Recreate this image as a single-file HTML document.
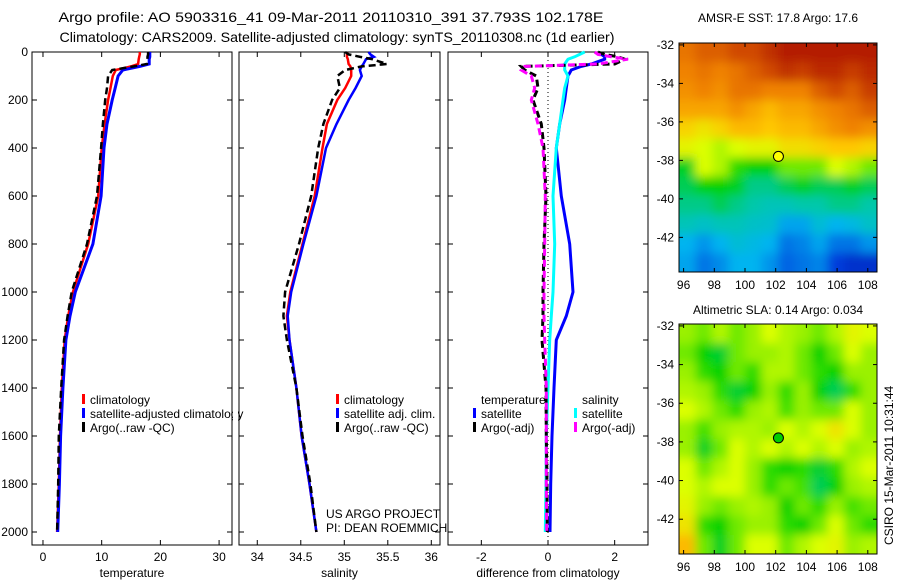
<!DOCTYPE html>
<html><head><meta charset="utf-8"><style>
body{margin:0;background:#fff;}
svg{display:block;font-family:"Liberation Sans",sans-serif;}
text{font-size:12px;fill:#000;}
</style></head><body>
<svg id="fig" width="900" height="580" viewBox="0 0 900 580">
<defs>
<filter id="blur" x="-5%" y="-5%" width="110%" height="110%"><feGaussianBlur stdDeviation="5"/></filter>
<clipPath id="clip1"><rect x="679" y="43" width="198" height="229"/></clipPath>
<clipPath id="clip2"><rect x="679" y="324" width="198" height="230"/></clipPath>
</defs>
<text x="331" y="22" text-anchor="middle" style="font-size:14px" textLength="545" lengthAdjust="spacingAndGlyphs">Argo profile: AO 5903316_41 09-Mar-2011 20110310_391 37.793S 102.178E</text>
<text x="337" y="42" text-anchor="middle" style="font-size:14px" textLength="555" lengthAdjust="spacingAndGlyphs">Climatology: CARS2009. Satellite-adjusted climatology: synTS_20110308.nc (1d earlier)</text>
<text x="778" y="22" text-anchor="middle">AMSR-E SST: 17.8 Argo: 17.6</text>
<text x="778" y="314" text-anchor="middle">Altimetric SLA: 0.14 Argo: 0.034</text>
<text transform="translate(893,545) rotate(-90)">CSIRO 15-Mar-2011 10:31:44</text>
<g id="layer"></g>
</svg>
<script>
const depths=[0,10,20,30,50,60,75,100,150,200,300,400,600,800,1000,1100,1200,1400,1600,1800,2000];
const tempClim=[16.5,16.5,16.4,16.3,16.2,15.0,12.4,11.9,11.5,11.1,10.5,10.0,9.4,7.7,5.1,4.3,3.7,3.2,2.9,2.7,2.4];
const tempSat=[18.2,18.2,18.2,18.1,18.1,16.5,13.6,12.8,12.3,11.8,10.9,10.4,9.9,8.5,5.5,4.6,3.9,3.4,3.0,2.8,2.5];
const tempArgo=[17.9,17.9,17.8,17.8,17.7,15.5,11.8,11.1,10.9,10.6,10.2,9.9,9.2,7.5,4.9,4.2,3.6,3.1,2.7,2.6,2.4];
const salClim=[35.03,35.03,35.03,35.04,35.05,35.07,35.08,35.08,35.01,34.92,34.80,34.75,34.66,34.52,34.38,34.34,34.37,34.45,34.51,34.60,34.68];
const salSat=[35.28,35.30,35.34,35.25,35.22,35.20,35.18,35.20,35.13,35.05,34.91,34.79,34.68,34.53,34.39,34.35,34.37,34.45,34.51,34.60,34.68];
const salArgo=[35.01,35.05,35.18,35.32,35.49,35.20,35.01,34.92,34.95,34.86,34.76,34.70,34.62,34.48,34.32,34.30,34.34,34.45,34.52,34.61,34.68];
const diffTempSat=[1.6,1.6,1.7,1.7,1.3,1.0,0.7,0.6,0.55,0.5,0.35,0.25,0.4,0.65,0.75,0.55,0.25,0.18,0.12,0.08,0.06];
const diffSalSat=[1.1,0.95,0.8,0.6,0.5,0.5,0.5,0.6,0.5,0.45,0.35,0.25,0.15,0.2,0.15,0.1,0.05,0.0,-0.05,-0.06,-0.08];
const diffTempArgo=[1.5,1.7,2.1,2.3,2.0,-0.8,-0.7,-0.35,-0.3,-0.45,-0.2,-0.12,-0.06,-0.12,-0.15,-0.15,-0.18,-0.06,-0.05,-0.03,-0.02];
const diffSalArgo=[1.4,1.5,1.9,2.4,1.5,-0.7,-0.8,-0.5,-0.4,-0.5,-0.3,-0.15,-0.08,-0.1,-0.12,-0.12,-0.1,-0.05,-0.05,-0.05,-0.04];
const depthTicks=[0,200,400,600,800,1000,1200,1400,1600,1800,2000];
const tempTicks=[0,10,20,30];
const salTicks=[34,34.5,35,35.5,36];
const diffTicks=[-2,0,2];
const lonTicks=[96,98,100,102,104,106,108];
const latTicks=[-32,-34,-36,-38,-40,-42];
const sstGrid=[
[0.82,0.85,0.85,0.88,0.88,0.92,0.95,0.95,0.95,0.95,0.95,0.95],
[0.8,0.82,0.8,0.82,0.85,0.88,0.92,0.9,0.93,0.93,0.9,0.93],
[0.78,0.8,0.78,0.82,0.82,0.8,0.8,0.8,0.85,0.88,0.85,0.9],
[0.75,0.75,0.75,0.78,0.75,0.72,0.75,0.75,0.78,0.8,0.82,0.85],
[0.68,0.65,0.68,0.72,0.72,0.7,0.72,0.72,0.75,0.78,0.8,0.78],
[0.62,0.6,0.58,0.6,0.62,0.62,0.66,0.66,0.68,0.7,0.7,0.68],
[0.48,0.6,0.58,0.52,0.5,0.5,0.55,0.55,0.55,0.6,0.58,0.55],
[0.45,0.5,0.5,0.48,0.42,0.42,0.45,0.48,0.45,0.45,0.48,0.45],
[0.42,0.42,0.45,0.42,0.40,0.38,0.38,0.40,0.40,0.42,0.42,0.40],
[0.38,0.36,0.38,0.38,0.36,0.35,0.28,0.28,0.34,0.3,0.32,0.36],
[0.3,0.26,0.3,0.34,0.32,0.3,0.22,0.24,0.28,0.22,0.22,0.26],
[0.28,0.22,0.25,0.3,0.3,0.26,0.2,0.22,0.24,0.15,0.12,0.12]];
const slaGrid=[
[.57,.55,.58,.55,.57,.6,.58,.57,.55,.58,.62,.6],
[.55,.5,.47,.55,.57,.57,.58,.55,.5,.55,.6,.57],
[.57,.52,.5,.55,.52,.58,.58,.55,.52,.5,.57,.57],
[.58,.57,.52,.47,.5,.57,.52,.57,.5,.45,.52,.57],
[.6,.58,.55,.52,.57,.58,.53,.57,.55,.55,.6,.57],
[.57,.53,.57,.58,.58,.57,.6,.58,.6,.65,.6,.57],
[.57,.48,.55,.6,.58,.6,.58,.6,.58,.6,.57,.58],
[.6,.55,.58,.6,.57,.52,.5,.52,.47,.52,.58,.6],
[.6,.58,.6,.6,.57,.52,.55,.53,.45,.5,.57,.58],
[.62,.57,.55,.57,.58,.57,.5,.55,.52,.57,.53,.55],
[.65,.52,.5,.55,.57,.57,.52,.5,.55,.6,.55,.52],
[.72,.55,.48,.55,.6,.6,.55,.58,.6,.62,.57,.58]];
const argoLon=102.178, argoLat=-37.793;

const NS='http://www.w3.org/2000/svg';
const layer=document.getElementById('layer');
function mk(tag,attrs,parent){const e=document.createElementNS(NS,tag);for(const k in attrs)e.setAttribute(k,attrs[k]);(parent||layer).appendChild(e);return e;}
function txt(x,y,s,anchor,parent){const t=mk('text',{x:x,y:y,'text-anchor':anchor||'start'},parent);t.textContent=s;return t;}

const yTop=52, yPer=0.24, boxBottom=545;
const yD=d=>yTop+d*yPer;
const panels=[
 {x0:32,x1:232,v0:-1.87,v1:32.2,ticks:tempTicks,label:'temperature',name:'temperature-panel',ylab:true},
 {x0:239,x1:440,v0:33.79,v1:36.1,ticks:salTicks,label:'salinity',name:'salinity-panel'},
 {x0:448,x1:648,v0:-3,v1:3,ticks:diffTicks,label:'difference from climatology',name:'difference-panel'}];
panels.forEach(p=>{p.sx=v=>p.x0+(v-p.v0)/(p.v1-p.v0)*(p.x1-p.x0);});

function drawAxes(p){
 const g=mk('g',{});
 
 
 mk('rect',{x:p.x0,y:yTop,width:p.x1-p.x0,height:boxBottom-yTop,fill:'none',stroke:'#000','stroke-width':1},g);
 p.ticks.forEach(t=>{const x=p.sx(t);
  mk('line',{x1:x,x2:x,y1:boxBottom,y2:boxBottom-5,stroke:'#000'},g);
  mk('line',{x1:x,x2:x,y1:yTop,y2:yTop+5,stroke:'#000'},g);
  const lt=txt(x,boxBottom+16,String(t),'middle',g);
  
  
 });
 depthTicks.forEach(d=>{const y=yD(d);
  mk('line',{x1:p.x0,x2:p.x0+5,y1:y,y2:y,stroke:'#000'},g);
  mk('line',{x1:p.x1,x2:p.x1-5,y1:y,y2:y,stroke:'#000'},g);
  if(p.ylab){const lt=txt(p.x0-4,y+4,String(d),'end',g);
   
   }
 });
 const xl=txt((p.x0+p.x1)/2,boxBottom+32,p.label,'middle',g);
 
 
}
panels.forEach(drawAxes);

function line(p,vals,color,dash,width,name){
 const pts=vals.map((v,i)=>p.sx(v).toFixed(1)+','+yD(depths[i]).toFixed(1)).join(' ');
 const e=mk('polyline',{points:pts,fill:'none',stroke:color,'stroke-width':width||2.5,'stroke-dasharray':dash||'none'});
 
 
}
const zl=mk('line',{x1:panels[2].sx(0),x2:panels[2].sx(0),y1:yTop,y2:boxBottom,stroke:'#000','stroke-dasharray':'1,3'});



line(panels[0],tempClim,'#f00',null,2.5,'temp-climatology-line');
line(panels[0],tempSat,'#00f',null,3,'temp-satellite-line');
line(panels[0],tempArgo,'#000','7,4',2.5,'temp-argo-line');
line(panels[1],salClim,'#f00',null,2.5,'sal-climatology-line');
line(panels[1],salSat,'#00f',null,2.5,'sal-satellite-line');
line(panels[1],salArgo,'#000','7,4',2.5,'sal-argo-line');
line(panels[2],diffTempSat,'#00f',null,3,'diff-temp-satellite-line');
line(panels[2],diffSalSat,'#0ff',null,3,'diff-sal-satellite-line');
line(panels[2],diffTempArgo,'#000','7,4',3,'diff-temp-argo-line');
line(panels[2],diffSalArgo,'#f0f','7,4',3,'diff-sal-argo-line');

function legendEntry(x,y,color,label,name){
 const g=mk('g',{});
 
 
 mk('rect',{x:x,y:y-10,width:3,height:10,fill:color},g);
 txt(x+8,y,label,'start',g);
}
legendEntry(82,404,'#f00','climatology','legend-climatology');
legendEntry(82,418,'#00f','satellite-adjusted climatology','legend-satellite-adjusted');
legendEntry(82,432,'#000','Argo(..raw -QC)','legend-argo');
legendEntry(336,404,'#f00','climatology','legend-sal-climatology');
legendEntry(336,418,'#00f','satellite adj. clim.','legend-sal-satellite');
legendEntry(336,432,'#000','Argo(..raw -QC)','legend-sal-argo');
txt(481,404,'temperature');
txt(582,404,'salinity');
legendEntry(473,418,'#00f','satellite','legend-diff-temp-satellite');
legendEntry(473,432,'#000','Argo(-adj)','legend-diff-temp-argo');
legendEntry(574,418,'#0ff','satellite','legend-diff-sal-satellite');
legendEntry(574,432,'#f0f','Argo(-adj)','legend-diff-sal-argo');
mk('rect',{x:233,y:405,width:5,height:16,fill:'#fff'});
txt(326,518,'US ARGO PROJECT');
txt(326,532,'PI: DEAN ROEMMICH');

const stops=[[0,[0,0,140]],[0.15,[0,60,220]],[0.3,[0,180,240]],[0.4,[0,200,170]],[0.5,[0,210,0]],[0.6,[220,255,0]],[0.7,[255,200,0]],[0.8,[240,130,0]],[0.9,[200,60,0]],[1,[160,0,0]]];
function cmap(v){v=Math.max(0,Math.min(1,v));for(let i=1;i<stops.length;i++){if(v<=stops[i][0]){const a=stops[i-1],b=stops[i];const t=(v-a[0])/(b[0]-a[0]);const c=a[1].map((q,k)=>Math.round(q+(b[1][k]-q)*t));return 'rgb('+c.join(',')+')';}}return 'rgb(160,0,0)';}

function drawMap(grid,m,name,dotColor,clip){
 const lonMin=95.7,lonMax=108.6,latMax=-31.9,latMin=-43.8;
 const sx=lon=>m.x0+(lon-lonMin)/(lonMax-lonMin)*(m.x1-m.x0);
 const sy=lat=>m.y0+(latMax-lat)/(latMax-latMin)*(m.y1-m.y0);
 const g=mk('g',{});
 
 
 const cg=mk('g',{'clip-path':'url(#'+clip+')'},g);
 const bg=mk('g',{filter:'url(#blur)'},cg);
 const rows=grid.length, cols=grid[0].length;
 const cw=(m.x1-m.x0)/cols, ch=(m.y1-m.y0)/rows;
 grid.forEach((row,r)=>row.forEach((v,c)=>{
  const ex0=c===0?-12:0, ex1=c===cols-1?12:0, ey0=r===0?-12:0, ey1=r===rows-1?12:0;
  const cell=mk('rect',{x:m.x0+c*cw+ex0,y:m.y0+r*ch+ey0,width:cw+0.6-ex0+ex1,height:ch+0.6-ey0+ey1,fill:cmap(v)},bg);
  
  
 }));
 mk('rect',{x:m.x0,y:m.y0,width:m.x1-m.x0,height:m.y1-m.y0,fill:'none',stroke:'#000'},g);
 lonTicks.forEach(l=>{const x=sx(l);
  mk('line',{x1:x,x2:x,y1:m.y1,y2:m.y1-4,stroke:'#000'},g);
  mk('line',{x1:x,x2:x,y1:m.y0,y2:m.y0+4,stroke:'#000'},g);
  txt(x,m.y1+17,String(l),'middle',g);});
 latTicks.forEach(l=>{const y=sy(l);
  mk('line',{x1:m.x0,x2:m.x0+4,y1:y,y2:y,stroke:'#000'},g);
  mk('line',{x1:m.x1,x2:m.x1-4,y1:y,y2:y,stroke:'#000'},g);
  txt(m.x0-5,y+4,String(l),'end',g);});
 const dot=mk('circle',{cx:sx(argoLon),cy:sy(argoLat),r:5,fill:dotColor,stroke:'#000'},g);
 
 
}
drawMap(sstGrid,{x0:679,x1:877,y0:43,y1:272},'sst-map','#ff0','clip1');
drawMap(slaGrid,{x0:679,x1:877,y0:324,y1:554},'sla-map','#0c0','clip2');
</script>
</body></html>
